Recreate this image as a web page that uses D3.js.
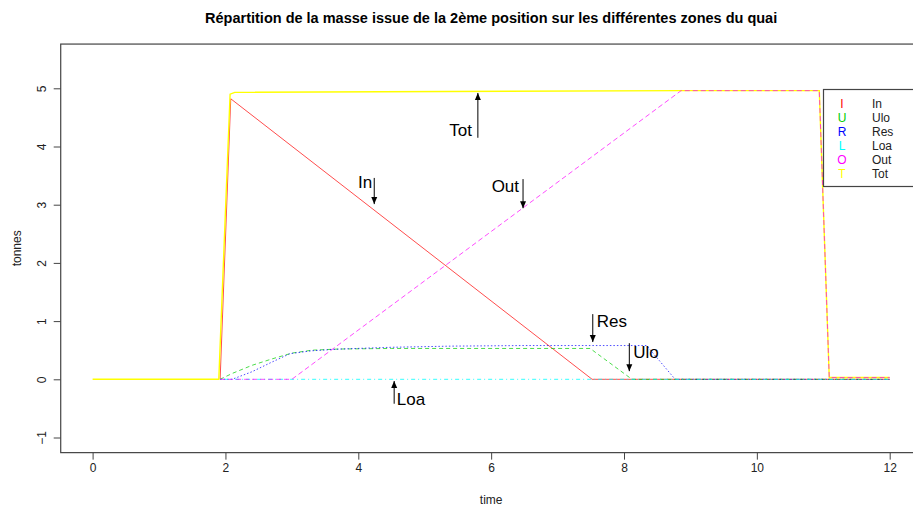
<!DOCTYPE html>
<html><head><meta charset="utf-8">
<script src="https://cdnjs.cloudflare.com/ajax/libs/d3/7.8.5/d3.min.js"></script>
<style>
html,body{margin:0;padding:0;background:#fff;}
svg{display:block;font-family:"Liberation Sans",Arial,sans-serif;}
</style></head>
<body><svg id="c" width="913" height="510"></svg>
<script>
// ---- data ----
const seriesNames = ["In","Ulo","Res","Loa","Out","Tot"];
const legendLetters = ["I","U","R","L","O","T"];
const xTicks = [0,2,4,6,8,10,12];
const yTicks = [-1,0,1,2,3,4,5];
const serIn  = [[1.92,0],[2.08,4.82],[7.52,0],[12,0]];
const serUlo = [[1.92,0],[2.1,0.1],[2.4,0.24],[2.7,0.35],[3.0,0.45],[3.3,0.5],[3.7,0.52],[4.5,0.53],[7.49,0.53],[8.12,0],[12,0]];
const serRes = [[1.92,0],[2.1,0],[2.4,0.13],[2.67,0.28],[2.97,0.44],[3.3,0.49],[3.73,0.52],[4.5,0.55],[5.4,0.57],[6.5,0.58],[8.34,0.58],[8.77,0],[12,0]];
const serLoa = [[1.92,0],[12,0]];
const serOut = [[1.92,0],[3.0,0],[8.86,4.96],[10.94,4.96],[11.09,0.03],[12,0.03]];
const serTot = [[0,0],[1.9,0],[2.07,4.9],[2.14,4.93],[8.86,4.96],[10.94,4.96],[11.09,0.03],[12,0.03]];
// annotations: label, arrow x, arrow start y, arrow end y, label x, label y
const annLabels = ["Tot","In","Out","Res","Ulo","Loa"];
const annArrowX = [5.80,4.24,6.48,7.53,8.08,4.54];
const annArrowY0 = [4.15,3.46,3.44,1.12,0.62,-0.42];
const annArrowY1 = [4.92,3.01,2.94,0.64,0.14,-0.03];
const annTextX = [5.71,4.21,6.42,7.59,8.14,4.58];
const annTextY = [4.28,3.39,3.32,1.0,0.47,-0.34];
const annAnchor = ["end","end","end","start","start","start"];

// ---- styles ----
const colors = ["#FF0000","#00CD00","#0000FF","#00FFFF","#FF00FF","#FFFF00"];
const dashes = [null,"4,3","1.5,2","1,3,4,3","5,3",null];
const widths = [1,1,1,1,1,1.4];
const opac = [0.7,0.7,0.7,0.8,0.7,1];

const svg = d3.select("#c");
const x = d3.scaleLinear().domain([0,12]).range([92.6,889.7]);
const y = d3.scaleLinear().domain([0,5]).range([379.3,88.3]);
const xMin = -0.48, xMax = 12.48, yMin = -1.26, yMax = 5.76;

// title
svg.append("text").attr("x",(x(xMin)+x(xMax))/2).attr("y",23)
  .attr("text-anchor","middle").attr("font-weight","bold").attr("font-size",14.5)
  .attr("fill","#000").text("Répartition de la masse issue de la 2ème position sur les différentes zones du quai");

// lines
const line = d3.line().x(d=>x(d[0])).y(d=>y(d[1]));
const data = [serIn,serUlo,serRes,serLoa,serOut,serTot];
const order = [0,1,2,3,5,4];
order.forEach(i=>{
  svg.append("path").datum(data[i]).attr("d",line).attr("fill","none")
    .attr("stroke",colors[i]).attr("stroke-width",widths[i]).attr("stroke-opacity",opac[i])
    .attr("stroke-dasharray",dashes[i]);
});

// axes
const gx = svg.append("g").attr("transform",`translate(0,${y(yMin)})`)
  .call(d3.axisBottom(x).tickValues(xTicks).tickFormat(d3.format("d")).tickSize(7).tickPadding(4));
gx.select(".domain").remove();
gx.selectAll("line").attr("stroke","#444");
gx.selectAll("text").attr("font-size",12).attr("fill","#222").attr("font-family","Liberation Sans, Arial, sans-serif");

const gy = svg.append("g").attr("transform",`translate(${x(xMin)},0)`)
  .call(d3.axisLeft(y).tickValues(yTicks).tickFormat(d3.format("d")).tickSize(7));
gy.select(".domain").remove();
gy.selectAll("line").attr("stroke","#444");
gy.selectAll("text").attr("font-size",12).attr("fill","#222").attr("font-family","Liberation Sans, Arial, sans-serif")
  .attr("transform","rotate(-90)").attr("x",0).attr("y",-18.5).attr("dy","0.35em").attr("text-anchor","middle");

// box
svg.append("rect").attr("x",x(xMin)).attr("y",y(yMax)).attr("width",x(xMax)-x(xMin)).attr("height",y(yMin)-y(yMax))
  .attr("fill","none").attr("stroke","#444").attr("stroke-width",1.2);

// axis titles
svg.append("text").attr("x",(x(xMin)+x(xMax))/2).attr("y",504).attr("text-anchor","middle")
  .attr("font-size",12).attr("fill","#222").text("time");
svg.append("text").attr("transform",`translate(21,${(y(yMin)+y(yMax))/2}) rotate(-90)`).attr("text-anchor","middle")
  .attr("font-size",12).attr("fill","#222").text("tonnes");

// annotations
annLabels.forEach((lab,i)=>{
  const ax = x(annArrowX[i]), a0 = y(annArrowY0[i]), a1 = y(annArrowY1[i]);
  svg.append("line").attr("x1",ax).attr("x2",ax).attr("y1",a0).attr("y2",a1).attr("stroke","#000").attr("stroke-width",1);
  const dir = a1 < a0 ? 1 : -1;
  svg.append("path").attr("d",`M${ax},${a1} L${ax-3},${a1+dir*7} L${ax+3},${a1+dir*7} Z`).attr("fill","#000");
  svg.append("text").attr("x",x(annTextX[i])).attr("y",y(annTextY[i])).attr("dy","0.36em")
    .attr("text-anchor",annAnchor[i]).attr("font-size",17).attr("fill","#000").text(lab);
});

// legend
const lg = svg.append("g");
lg.append("rect").attr("x",823.5).attr("y",89.5).attr("width",120).attr("height",97)
  .attr("fill","#fff").attr("stroke","#444").attr("stroke-width",1.2);
seriesNames.forEach((n,i)=>{
  const yy = 104 + i*14;
  lg.append("text").attr("x",842).attr("y",yy).attr("dy","0.36em").attr("text-anchor","middle")
    .attr("font-size",12).attr("fill",colors[i]).text(legendLetters[i]);
  lg.append("text").attr("x",872).attr("y",yy).attr("dy","0.36em")
    .attr("font-size",12).attr("fill","#222").text(n);
});
</script></body></html>
